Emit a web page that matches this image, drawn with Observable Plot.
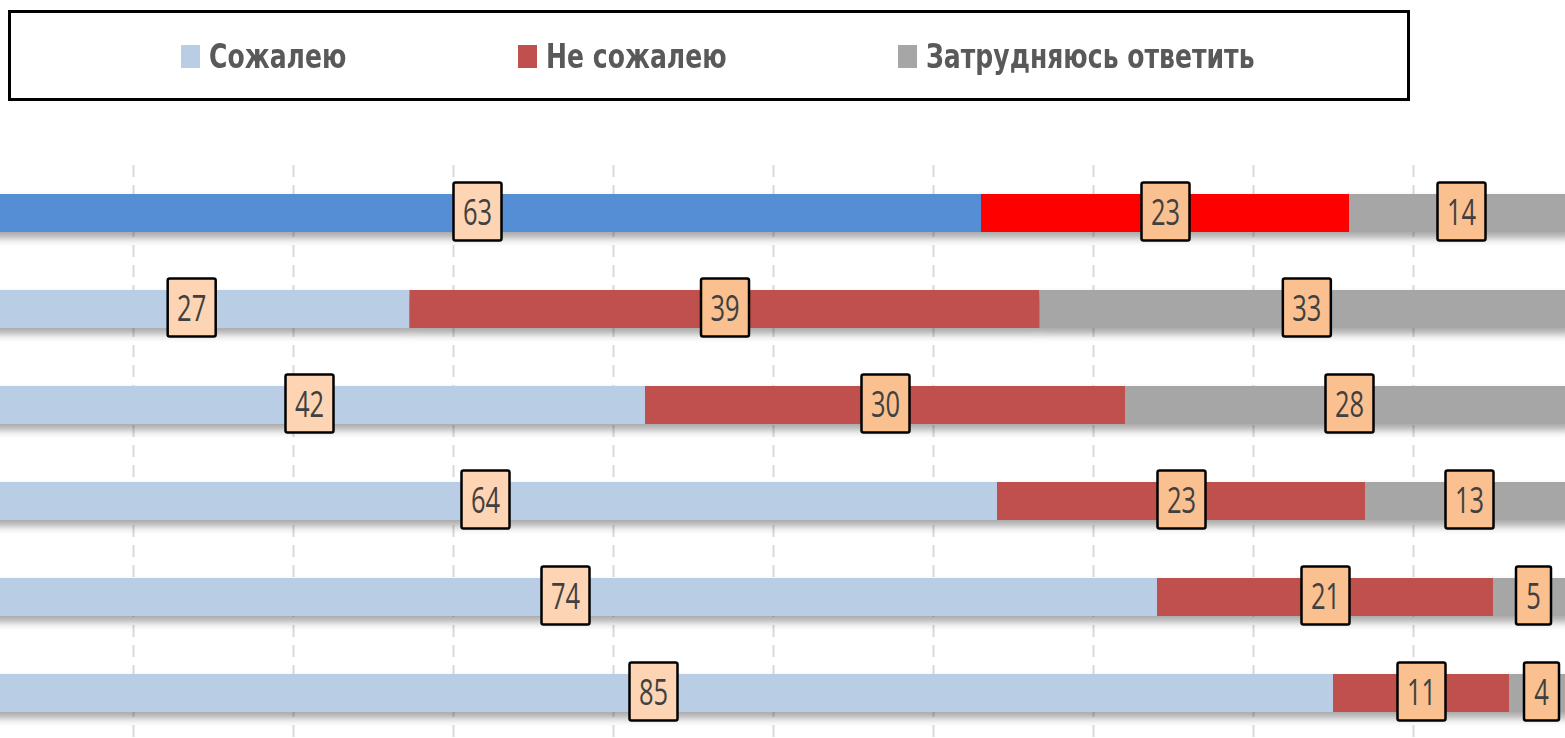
<!DOCTYPE html>
<html>
<head>
<meta charset="utf-8">
<script src="https://cdn.jsdelivr.net/npm/d3@7"></script>
<script src="https://cdn.jsdelivr.net/npm/@observablehq/plot@0.6"></script>
<style>
  html, body { margin: 0; padding: 0; background: #fff; width: 1565px; height: 738px; overflow: hidden; }
  #wrap { position: relative; width: 1565px; height: 738px; }
  #chart { position: absolute; left: 0; top: 0; }
  #legend { position: absolute; left: 8px; top: 10px; width: 1396px; height: 85px; border: 3px solid #000; background: #fff; z-index: 2; }
  .item { position: absolute; top: 0; height: 85px; display: flex; align-items: center; font-family: "Liberation Sans Narrow", "DejaVu Sans Condensed", "Roboto Condensed", sans-serif; font-weight: bold; font-size: 30px; color: #595959; white-space: nowrap; }
  .sw { display: inline-block; width: 19px; height: 23px; margin-right: 9px; margin-top: 2px; }
  .lbl { display: inline-block; transform: scale(0.93, 1.15); transform-origin: left center; }
  #chart svg g[aria-label="bar"] { filter: drop-shadow(0px 6px 4px rgba(0,0,0,0.35)); }
</style>
</head>
<body>
<div id="wrap">
  <div id="chart"></div>
  <div id="legend"></div>
</div>
<script>
// ---- data ----
const rows = ["Ряд 1", "Ряд 2", "Ряд 3", "Ряд 4", "Ряд 5", "Ряд 6"];
const categories = ["Сожалею", "Не сожалею", "Затрудняюсь ответить"];
const regret    = [63, 27, 42, 64, 74, 85];
const noRegret  = [23, 39, 30, 23, 21, 11];
const hardToSay = [14, 33, 28, 13, 5, 4];
const colors          = ["#b9cde5", "#c0504d", "#a6a6a6"];
const highlightColors = ["#558ed5", "#ff0000", "#a6a6a6"];
const highlightRow = "Ряд 1";
const labelFills = ["#fdd5b4", "#fac090", "#fac090"];
const gridTicks = [10, 20, 30, 40, 50, 60, 70, 80, 90];

// ---- table ----
const series = [regret, noRegret, hardToSay];
const data = [];
rows.forEach((r, i) => {
  categories.forEach((c, j) => {
    data.push({
      row: r, cat: c, value: series[j][i],
      color: r === highlightRow ? highlightColors[j] : colors[j],
      labelFill: labelFills[j]
    });
  });
});

// ---- legend ----
const legendLeft = [170, 507, 887];
const legend = document.getElementById("legend");
categories.forEach((c, j) => {
  const it = document.createElement("div");
  it.className = "item";
  it.style.left = legendLeft[j] + "px";
  it.innerHTML = `<span class="sw" style="background:${colors[j]}"></span><span class="lbl">${c}</span>`;
  legend.appendChild(it);
});

// ---- chart ----
const chart = Plot.plot({
  width: 1565,
  height: 738,
  marginTop: 165,
  marginBottom: 0,
  marginLeft: 0,
  marginRight: 0,
  style: { fontFamily: '"Open Sans", "Noto Sans", sans-serif', background: "transparent" },
  x: { domain: [0, 1], range: [-27, 1573], axis: null },
  y: { domain: rows, range: [135, 771], padding: 0.6, axis: null },
  color: { type: "identity" },
  marks: [
    Plot.ruleX(gridTicks, { x: d => d / 100, stroke: "#d9d9d9", strokeWidth: 2, strokeDasharray: "12,8" }),
    Plot.barX(data, Plot.stackX({ x: "value", y: "row", z: "cat", offset: "normalize", fill: "color" })),
    Plot.text(data, Plot.stackX({ x: "value", y: "row", z: "cat", offset: "normalize", text: d => String(d.value), fill: "#404040", fontSize: 30 }))
  ]
});
document.getElementById("chart").appendChild(chart);

// label boxes behind text, positioned from the text rendered by Plot
const textGroup = chart.querySelector('g[aria-label="text"]');
if (textGroup) {
  const texts = Array.from(textGroup.querySelectorAll("text"));
  texts.forEach((t, i) => {
    const bb = t.getBBox();
    const d = data[i];
    const cx = bb.x + bb.width / 2, cy = bb.y + bb.height / 2;
    const len = t.textContent.length;
    const w = 22 + 13 * len, h = 58;
    const rect = document.createElementNS("http://www.w3.org/2000/svg", "rect");
    const tr = t.getAttribute("transform") || "";
    if (tr) rect.setAttribute("transform", tr);
    rect.setAttribute("x", cx - w / 2);
    rect.setAttribute("y", cy - h / 2);
    rect.setAttribute("width", w);
    rect.setAttribute("height", h);
    rect.setAttribute("rx", 2);
    rect.setAttribute("fill", d ? d.labelFill : "#fac090");
    rect.setAttribute("stroke", "#000");
    rect.setAttribute("stroke-width", 2.5);
    textGroup.insertBefore(rect, t);
    // narrow, tall digits like the reference
    t.setAttribute("transform", `${tr} translate(${cx},${cy}) scale(0.85,1.2) translate(${-cx},${-cy})`);
  });
}
</script>
</body>
</html>
